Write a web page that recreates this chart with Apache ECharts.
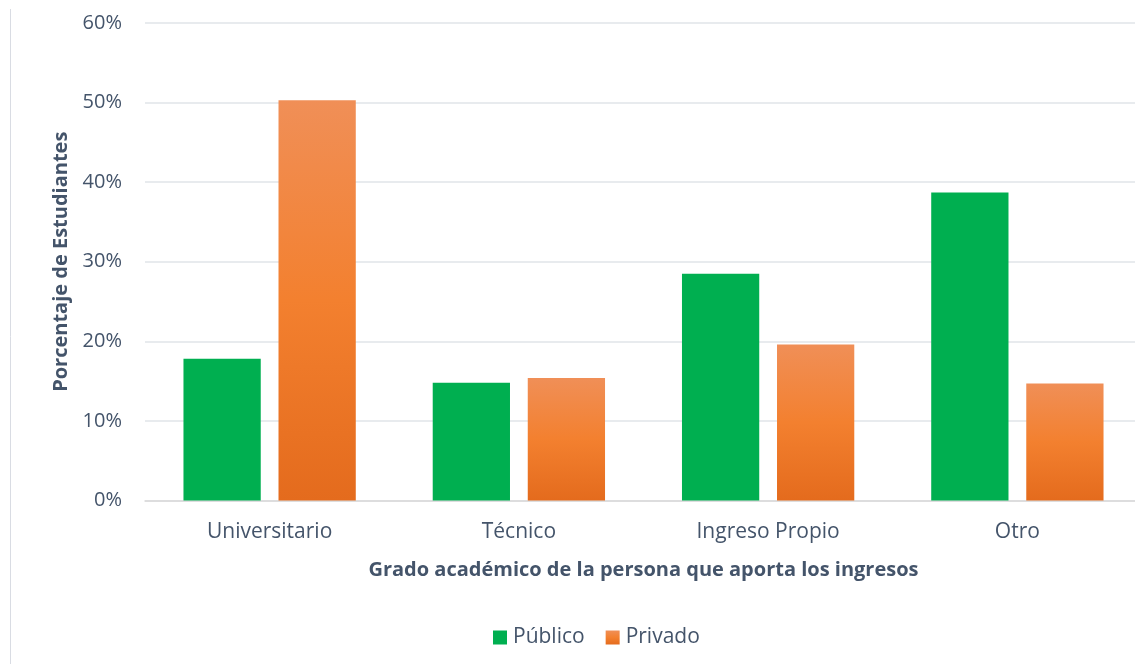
<!DOCTYPE html>
<html>
<head>
<meta charset="utf-8">
<script src="https://cdn.jsdelivr.net/npm/echarts@6/dist/echarts.min.js"></script>
<style>
  html, body { margin: 0; padding: 0; background: #ffffff; }
  #chart { width: 1135px; height: 664px; }
</style>
</head>
<body>
<div id="chart"></div>
<script>
// Categories and series values (percent of students)
const categories = ['Universitario', 'Técnico', 'Ingreso Propio', 'Otro'];
const publico = [17.8, 14.8, 28.5, 38.7];
const privado = [50.3, 15.4, 19.6, 14.7];
const seriesNames = ['Público', 'Privado'];
const yTicks = { min: 0, max: 60, interval: 10 };

const textColor = '#44546A';
const fontFamily = '"Open Sans", "Noto Sans", sans-serif';

const orangeGradient = new echarts.graphic.LinearGradient(0, 0, 0, 1, [
  { offset: 0, color: '#F08F57' },
  { offset: 0.5, color: '#F3802F' },
  { offset: 1, color: '#E46B1D' }
]);

const chart = echarts.init(document.getElementById('chart'), null, { renderer: 'canvas' });

chart.setOption({
  animation: false,
  backgroundColor: '#ffffff',
  textStyle: { fontFamily: fontFamily, color: textColor },
  // plot area runs slightly past the right edge of the canvas
  grid: {
    left: 145, width: 997, top: 23, height: 477.5,
    containLabel: false, outerBoundsMode: 'none'
  },
  graphic: [
    {
      type: 'line',
      shape: { x1: 10.5, y1: 9, x2: 10.5, y2: 664 },
      style: { stroke: '#D9DCE3', lineWidth: 1 }
    }
  ],
  legend: {
    data: seriesNames,
    top: 627,
    left: 493,
    padding: 0,
    itemWidth: 14,
    itemHeight: 14,
    itemGap: 21,
    icon: 'rect',
    textStyle: { fontFamily: fontFamily, fontSize: 21, color: textColor, padding: [0, 0, 0, 1] }
  },
  xAxis: {
    type: 'category',
    data: categories,
    name: 'Grado académico de la persona que aporta los ingresos',
    nameLocation: 'middle',
    nameGap: 60,
    nameTextStyle: { fontFamily: fontFamily, fontSize: 20, fontWeight: 'bold', color: textColor },
    axisLine: { show: true, lineStyle: { color: '#D9D9D9', width: 1.5 } },
    axisTick: { show: false },
    axisLabel: { margin: 21, fontSize: 21, color: textColor, fontFamily: fontFamily }
  },
  yAxis: {
    type: 'value',
    min: yTicks.min,
    max: yTicks.max,
    interval: yTicks.interval,
    name: 'Porcentaje de Estudiantes',
    nameLocation: 'middle',
    nameGap: 73,
    nameRotate: 90,
    nameTextStyle: { fontFamily: fontFamily, fontSize: 20, fontWeight: 'bold', color: textColor },
    axisLine: { show: false },
    axisTick: { show: false },
    axisLabel: { margin: 23, fontSize: 20, color: textColor, fontFamily: fontFamily, formatter: '{value}%' },
    splitLine: { lineStyle: { color: '#E1E4E9', width: 1.5 } }
  },
  series: [
    {
      name: seriesNames[0],
      type: 'bar',
      data: publico,
      barWidth: '31%',
      barGap: '23%',
      itemStyle: { color: '#00AF50' }
    },
    {
      name: seriesNames[1],
      type: 'bar',
      data: privado,
      barWidth: '31%',
      itemStyle: { color: orangeGradient }
    }
  ]
});
</script>
</body>
</html>
